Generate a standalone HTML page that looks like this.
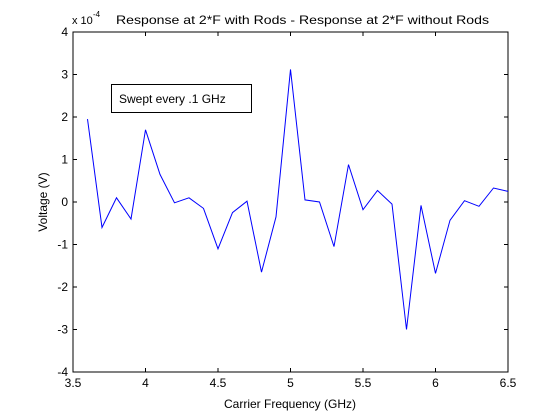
<!DOCTYPE html>
<html><head><meta charset="utf-8"><style>
body{margin:0;background:#fff;}
svg{display:block;font-family:"Liberation Sans",sans-serif;}
</style></head><body>
<svg id="c" width="560" height="420">
<rect width="560" height="420" fill="#fff"/>
<g id="axes"></g>
</svg>
<script>
const freqs=[3.6,3.7,3.8,3.9,4.0,4.1,4.2,4.3,4.4,4.5,4.6,4.7,4.8,4.9,5.0,5.1,5.2,5.3,5.4,5.5,5.6,5.7,5.8,5.9,6.0,6.1,6.2,6.3,6.4,6.5];
const voltage=[1.95,-0.6,0.1,-0.4,1.7,0.65,-0.02,0.1,-0.15,-1.1,-0.25,0.02,-1.65,-0.35,3.12,0.05,0.0,-1.05,0.88,-0.18,0.27,-0.05,-3.0,-0.08,-1.68,-0.43,0.03,-0.1,0.33,0.25];
const xTicks=[3.5,4,4.5,5,5.5,6,6.5];
const xTickLabels=["3.5","4","4.5","5","5.5","6","6.5"];
const yTicks=[-4,-3,-2,-1,0,1,2,3,4];
const yTickLabels=["-4","-3","-2","-1","0","1","2","3","4"];
const L=73,R=508,T=32,B=372;
const X=v=>L+(v-3.5)/3*(R-L);
const Y=v=>B-(v+4)/8*(B-T);
const NS="http://www.w3.org/2000/svg";
const g=document.getElementById('axes');
function mk(tag,attrs,text){const e=document.createElementNS(NS,tag);for(const k in attrs)e.setAttribute(k,attrs[k]);if(text!==undefined)e.textContent=text;g.appendChild(e);return e;}
let e=mk('rect',{x:L,y:T,width:R-L,height:B-T,fill:'#fff',stroke:'#000','stroke-width':1});


xTicks.forEach((t,i)=>{
 const x=X(t);
 let a=mk('line',{x1:x,x2:x,y1:B,y2:B-4,stroke:'#000'});
 
 
 a=mk('line',{x1:x,x2:x,y1:T,y2:T+4,stroke:'#000'});
 
 
 a=mk('text',{x:x,y:B+15,'font-size':12,'text-anchor':'middle'},xTickLabels[i]);
 
 
});
yTicks.forEach((t,i)=>{
 const y=Y(t);
 let a=mk('line',{x1:L,x2:L+4,y1:y,y2:y,stroke:'#000'});
 
 
 a=mk('line',{x1:R,x2:R-4,y1:y,y2:y,stroke:'#000'});
 
 
 a=mk('text',{x:L-5,y:y+4,'font-size':12,'text-anchor':'end'},yTickLabels[i]);
 
 
});
const pts=freqs.map((f,i)=>X(f).toFixed(1)+','+Y(voltage[i]).toFixed(1)).join(' ');
e=mk('polyline',{points:pts,fill:'none',stroke:'#0000ff','stroke-width':1});


e=mk('text',{x:72,y:24,'font-size':11},'x 10');


e=mk('text',{x:93,y:17,'font-size':8},'-4');


e=mk('text',{x:116,y:24,'font-size':12,textLength:373,lengthAdjust:'spacingAndGlyphs'},'Response at 2*F with Rods - Response at 2*F without Rods');


e=mk('text',{x:290,y:408,'font-size':12,'text-anchor':'middle'},'Carrier Frequency (GHz)');


e=mk('text',{x:47,y:202,'font-size':12,'text-anchor':'middle',transform:'rotate(-90 47 202)'},'Voltage (V)');


e=mk('rect',{x:111.5,y:84.5,width:140,height:28,fill:'#fff',stroke:'#000'});


e=mk('text',{x:119,y:103,'font-size':12},'Swept every .1 GHz');


</script>
</body></html>
